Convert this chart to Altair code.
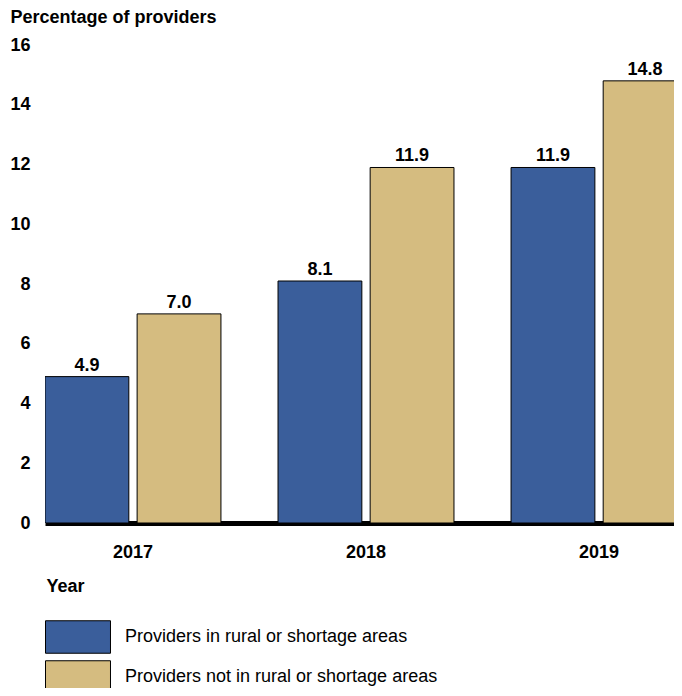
import altair as alt
import pandas as pd

years = ["2017", "2018", "2019"]
groups = ["Providers in rural or shortage areas", "Providers not in rural or shortage areas"]
rural = [4.9, 8.1, 11.9]
not_rural = [7.0, 11.9, 14.8]
colors = ["#3A5E9B", "#D5BC80"]
y_ticks = [0, 2, 4, 6, 8, 10, 12, 14, 16]

rows = []
for i, yr in enumerate(years):
    rows.append({"year": yr, "group": groups[0], "value": rural[i]})
    rows.append({"year": yr, "group": groups[1], "value": not_rural[i]})
df = pd.DataFrame(rows)

FONT = "Liberation Sans"

x_enc = alt.X(
    "year:N",
    sort=years,
    scale=alt.Scale(range=[0, 642], paddingInner=0.245, paddingOuter=0),
    axis=alt.Axis(
        title="Year",
        titleFont=FONT, titleFontSize=18, titleFontWeight="bold", titleColor="#000",
        titleAnchor="start", titleAlign="left", titleBaseline="alphabetic", titleX=1, titleY=68,
        labelFont=FONT, labelFontSize=18, labelFontWeight="bold", labelColor="#000",
        labelAngle=0, labelPadding=20,
        ticks=False, tickSize=0,
        domainColor="#000", domainWidth=5,
    ),
)
xoff = alt.XOffset("group:N", sort=groups, scale=alt.Scale(domain=groups, paddingInner=0.09, paddingOuter=0))
y_enc = alt.Y(
    "value:Q",
    scale=alt.Scale(domain=[0, 16], nice=False),
    axis=alt.Axis(
        values=y_ticks,
        title="Percentage of providers",
        titleFont=FONT, titleFontSize=18, titleFontWeight="bold", titleColor="#000",
        titleAngle=0, titleAlign="left", titleBaseline="alphabetic", titleX=-35, titleY=-23,
        labelFont=FONT, labelFontSize=18, labelFontWeight="bold", labelColor="#000",
        labelPadding=15, ticks=False, tickSize=0, domain=False, grid=False,
    ),
)
color_enc = alt.Color(
    "group:N",
    sort=groups,
    scale=alt.Scale(domain=groups, range=colors),
    legend=alt.Legend(
        title=None, orient="none", legendX=0, legendY=575, direction="vertical",
        symbolType="M-2,-1H2V1H-2Z", symbolSize=1056,
        symbolStrokeColor="#000", symbolStrokeWidth=1, symbolOpacity=1,
        labelFont=FONT, labelFontSize=18, labelColor="#000", labelOffset=30,
        rowPadding=2, padding=0, symbolOffset=16, labelLimit=600,
    ),
)

bars = alt.Chart(df).mark_bar(stroke="#000", strokeWidth=1, clip=True).encode(
    x=x_enc, xOffset=xoff, y=y_enc, color=color_enc
)
labels = alt.Chart(df).mark_text(
    font=FONT, fontSize=18, fontWeight="bold", color="#000", baseline="alphabetic", dy=-6
).encode(
    x=alt.X("year:N", sort=years),
    xOffset=alt.XOffset("group:N", sort=groups),
    y="value:Q",
    text=alt.Text("value:Q", format=".1f"),
)

chart = alt.layer(bars, labels).properties(
    width=629, height=478,
    background="#ffffff",
    autosize=alt.AutoSizeParams(type="none"),
    padding={"left": 37, "top": 37, "right": 0, "bottom": 165},
).configure_view(stroke=None, strokeWidth=0)

chart.save("out.html", embed_options={"renderer": "svg", "actions": False})
